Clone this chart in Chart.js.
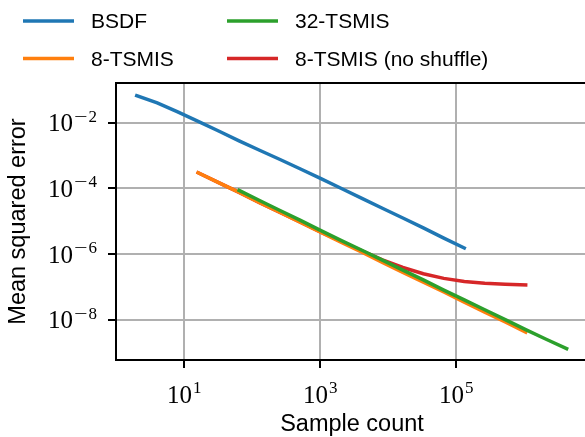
<!DOCTYPE html>
<html>
<head>
<meta charset="utf-8">
<script src="https://cdn.jsdelivr.net/npm/chart.js@4.4.1/dist/chart.umd.min.js"></script>
<style>
  html, body { margin: 0; padding: 0; background: #fff; overflow: hidden; }
  #wrap { position: relative; width: 600px; height: 437px; }
</style>
</head>
<body>
<div id="wrap"><canvas id="mseChart"></canvas></div>
<script>
// sample counts (powers of two) and mean squared error
const bsdfSamples = [2, 4, 8, 16, 32, 64, 128, 256, 512, 1024, 2048, 4096, 8192, 16384, 32768, 65536, 131072];
const bsdfMse = [6.6e-2, 4.0e-2, 2.14e-2, 1.10e-2, 5.6e-3, 2.8e-3, 1.45e-3, 7.6e-4, 3.9e-4, 2.0e-4, 1.0e-4, 5.0e-5, 2.5e-5, 1.26e-5, 6.3e-6, 3.1e-6, 1.55e-6];

const tsmis8Samples = [16, 32, 64, 128, 256, 512, 1024, 2048, 4096, 8192, 16384, 32768, 65536, 131072, 262144, 524288, 1048576];
const tsmis8Mse = [3.0e-4, 1.51e-4, 7.6e-5, 3.7e-5, 1.86e-5, 9.3e-6, 4.6e-6, 2.3e-6, 1.15e-6, 5.6e-7, 2.8e-7, 1.41e-7, 7.1e-8, 3.5e-8, 1.74e-8, 8.7e-9, 4.3e-9];

const tsmis32Samples = [64, 128, 256, 512, 1024, 2048, 4096, 8192, 16384, 32768, 65536, 131072, 262144, 524288, 1048576, 2097152, 4194304];
const tsmis32Mse = [8.7e-5, 4.3e-5, 2.14e-5, 1.07e-5, 5.2e-6, 2.6e-6, 1.32e-6, 6.6e-7, 3.3e-7, 1.66e-7, 8.1e-8, 4.1e-8, 2.04e-8, 1.02e-8, 5.1e-9, 2.6e-9, 1.35e-9];

const noShuffleSamples = [16, 32, 64, 128, 256, 512, 1024, 2048, 4096, 8192, 16384, 32768, 65536, 131072, 262144, 524288, 1048576];
const noShuffleMse = [3.0e-4, 1.51e-4, 7.6e-5, 3.7e-5, 1.87e-5, 9.4e-6, 4.7e-6, 2.4e-6, 1.26e-6, 6.75e-7, 3.95e-7, 2.54e-7, 1.84e-7, 1.48e-7, 1.30e-7, 1.22e-7, 1.17e-7];

const xTicks = [1e1, 1e3, 1e5];
const xTickExps = ['1', '3', '5'];
const yTicks = [1e-2, 1e-4, 1e-6, 1e-8];
const yTickExps = ['\u22122', '\u22124', '\u22126', '\u22128'];

const xLabel = 'Sample count';
const yLabel = 'Mean squared error';

const toPoints = (xs, ys) => xs.map((x, i) => ({ x: x, y: ys[i] }));

const baseFont = "25px 'Liberation Serif'";
const supFont = "17px 'Liberation Serif'";
const minusStretch = 1.4;

// width of "10^exp" (or draws it when draw is true)
function powerLabel(ctx, exp, x0, baseY, supY, draw) {
    let x = x0;
    ctx.font = baseFont;
    if (draw) ctx.fillText('10', x, baseY);
    x += ctx.measureText('10').width + 1;
    ctx.font = supFont;
    let digits = exp;
    if (exp.charAt(0) === '\u2212') {
        // long TeX-like minus
        const mw = ctx.measureText('\u2212').width;
        if (draw) {
            ctx.save();
            ctx.translate(x, supY);
            ctx.scale(minusStretch, 1);
            ctx.fillText('\u2212', 0, 0);
            ctx.restore();
        }
        x += mw * minusStretch + 1;
        digits = exp.slice(1);
    }
    if (draw) ctx.fillText(digits, x, supY);
    x += ctx.measureText(digits).width;
    return x - x0;
}

// axes frame, tick labels, titles and the two-column legend
const decorPlugin = {
    id: 'decor',
    afterDraw(chart) {
        const ctx = chart.ctx;
        const area = chart.chartArea;
        const xs = chart.scales.x;
        const ys = chart.scales.y;
        ctx.save();

        ctx.strokeStyle = '#000';
        ctx.lineWidth = 2;
        ctx.strokeRect(area.left, area.top, area.right - area.left, area.bottom - area.top);

        ctx.fillStyle = '#000';
        ctx.textAlign = 'left';
        ctx.textBaseline = 'alphabetic';

        xTicks.forEach((v, i) => {
            const px = xs.getPixelForValue(v);
            const w = powerLabel(ctx, xTickExps[i], 0, 0, 0, false);
            powerLabel(ctx, xTickExps[i], px - w / 2, 403, 393, true);
        });

        yTicks.forEach((v, i) => {
            const py = ys.getPixelForValue(v);
            const w = powerLabel(ctx, yTickExps[i], 0, 0, 0, false);
            powerLabel(ctx, yTickExps[i], 97 - w, py + 8.3, py - 1, true);
        });

        ctx.font = "23.5px 'Liberation Sans'";
        ctx.textAlign = 'center';
        ctx.fillText(xLabel, (area.left + area.right) / 2, 431);

        ctx.save();
        ctx.translate(25, (area.top + area.bottom) / 2);
        ctx.rotate(-Math.PI / 2);
        ctx.fillText(yLabel, 0, 0);
        ctx.restore();

        // legend: filled column by column, like matplotlib ncol=2
        ctx.font = "21px 'Liberation Sans'";
        ctx.textAlign = 'left';
        ctx.textBaseline = 'middle';
        const colX = [23, 227];
        const rowY = [21, 58.5];
        chart.data.datasets.forEach((ds, i) => {
            const col = Math.floor(i / 2);
            const row = i % 2;
            const x = colX[col];
            const y = rowY[row];
            ctx.strokeStyle = ds.borderColor;
            ctx.lineWidth = 3.5;
            ctx.beginPath();
            ctx.moveTo(x, y);
            ctx.lineTo(x + 51, y);
            ctx.stroke();
            ctx.fillStyle = '#000';
            ctx.fillText(ds.label, x + 68, y + 1.5);
        });

        ctx.restore();
    }
};

const ctx = document.getElementById('mseChart').getContext('2d');

const mseChart = new Chart(ctx, {
    type: 'line',
    data: {
        datasets: [{
            label: 'BSDF',
            data: toPoints(bsdfSamples, bsdfMse),
            borderColor: '#1f77b4',
            order: 3
        }, {
            label: '8-TSMIS',
            data: toPoints(tsmis8Samples, tsmis8Mse),
            borderColor: '#ff7f0e',
            order: 1
        }, {
            label: '32-TSMIS',
            data: toPoints(tsmis32Samples, tsmis32Mse),
            borderColor: '#2ca02c',
            order: 0
        }, {
            label: '8-TSMIS (no shuffle)',
            data: toPoints(noShuffleSamples, noShuffleMse),
            borderColor: '#d62728',
            order: 2
        }]
    },
    options: {
        responsive: true,
        maintainAspectRatio: false,
        animation: false,
        events: [],
        layout: {
            padding: { top: 83, right: 12, left: 0, bottom: 0 }
        },
        elements: {
            point: { radius: 0 },
            line: { borderWidth: 3.5, tension: 0, borderCapStyle: 'square', fill: false }
        },
        plugins: {
            legend: { display: false },
            tooltip: { enabled: false }
        },
        scales: {
            x: {
                type: 'logarithmic',
                min: Math.pow(10, -0.004),
                max: Math.pow(10, 6.937),
                afterBuildTicks: scale => { scale.ticks = xTicks.map(v => ({ value: v })); },
                afterFit: scale => { scale.height = 77; },
                ticks: { display: false },
                border: { display: false },
                grid: {
                    color: '#b0b0b0',
                    lineWidth: 2,
                    drawTicks: true,
                    tickLength: 8,
                    tickColor: '#000',
                    tickWidth: 2
                }
            },
            y: {
                type: 'logarithmic',
                min: Math.pow(10, -9.217),
                max: Math.pow(10, -0.793),
                afterBuildTicks: scale => { scale.ticks = yTicks.map(v => ({ value: v })); },
                afterFit: scale => { scale.width = 116; },
                ticks: { display: false },
                border: { display: false },
                grid: {
                    color: '#b0b0b0',
                    lineWidth: 2,
                    drawTicks: true,
                    tickLength: 8,
                    tickColor: '#000',
                    tickWidth: 2
                }
            }
        }
    },
    plugins: [decorPlugin]
});
</script>
</body>
</html>
